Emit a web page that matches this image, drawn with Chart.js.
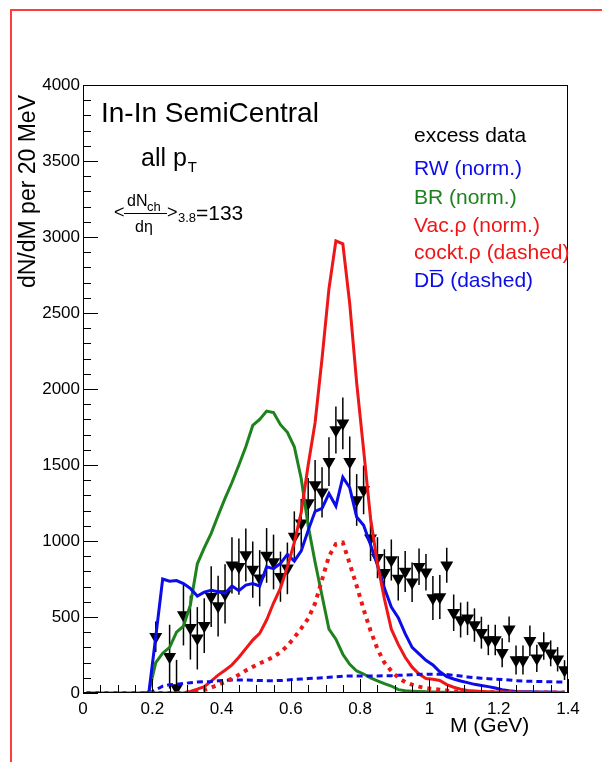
<!DOCTYPE html>
<html>
<head>
<meta charset="utf-8">
<script src="https://cdn.jsdelivr.net/npm/chart.js@4.4.0/dist/chart.umd.min.js"></script>
<style>
  html, body { margin: 0; padding: 0; background: #fff; overflow: hidden; }
  #frame { position: absolute; left: 10px; top: 9px; width: 592px; height: 753px;
           border-left: 2px solid #ff3c3c; border-top: 2px solid #ff3c3c; }
  #myChart { position: absolute; left: 0; top: 0; }
</style>
</head>
<body>
<div id="frame"></div>
<canvas id="myChart" width="602" height="762"></canvas>
<script>
/* ---------- data ---------- */
// mass grid of the model curves (GeV), 20 MeV bins
var mGrid = [0.01,0.03,0.05,0.07,0.09,0.11,0.13,0.15,0.17,0.19,
             0.21,0.23,0.25,0.27,0.29,0.31,0.33,0.35,0.37,0.39,
             0.41,0.43,0.45,0.47,0.49,0.51,0.53,0.55,0.57,0.59,
             0.61,0.63,0.65,0.67,0.69,0.71,0.73,0.75,0.77,0.79,
             0.81,0.83,0.85,0.87,0.89,0.91,0.93,0.95,0.97,0.99,
             1.01,1.03,1.05,1.07,1.09,1.11,1.13,1.15,1.17,1.19,
             1.21,1.23,1.25,1.27,1.29,1.31,1.33,1.35,1.37,1.39];

// RW (norm.) - blue solid
var rwVals = [null,null,null,null,null,null,null,null,null,0,
              370,750,735,740,720,688,638,664,676,666,
              656,704,673,710,720,704,830,818,853,912,
              868,936,1070,1195,1215,1312,1230,1420,1350,1158,
              1104,975,840,690,565,495,390,300,258,215,
              185,140,108,92,79,68,57,50,42,33,
              22,15,10,9,8,7,6,6,5,5];

// BR (norm.) - green solid
var brVals = [0,0,0,0,0,0,0,0,0,5,
              200,262,300,400,440,580,850,955,1050,1168,
              1280,1385,1500,1620,1760,1800,1855,1845,1765,1715,
              1620,1410,1100,860,640,420,354,255,189,145,
              125,100,80,62,46,22,15,12,10,8,
              6,5,5,4,4,4,3,3,3,3,
              3,2,2,2,2,2,2,2,2,2];

// Vac.rho (norm.) - red solid
var vacVals = [null,null,null,null,null,null,null,null,null,0,
               0,0,0,0,0,10,25,42,78,118,
               150,185,235,292,348,392,480,592,690,830,
               990,1190,1500,1780,2200,2660,2975,2955,2560,2040,
               1600,1150,850,620,420,320,235,170,125,95,
               90,82,55,38,25,17,13,10,8,6,
               6,5,5,5,4,4,4,4,3,3];

// cocktail rho - red dashed
var cocktVals = [0,0,0,0,0,0,0,0,0,0,
                 0,0,0,0,0,3,10,20,35,55,
                 72,95,120,148,172,195,215,238,268,310,
                 365,425,490,590,745,900,980,990,850,705,
                 550,410,290,200,145,100,72,55,42,32,
                 26,22,16,10,8,7,6,6,5,5,
                 5,4,4,4,4,3,3,3,3,3];

// D Dbar - blue dashed
var ddVals = [null,null,null,null,null,null,null,null,null,0,
              20,45,55,58,62,68,72,74,76,80,
              84,86,86,86,84,82,81,81,82,85,
              89,92,95,97,100,104,107,110,112,112,
              112,112,112,113,114,116,118,120,123,124,
              124,123,121,117,112,106,101,97,94,91,
              89,85,81,79,77,76,75,74,73,72];

// excess data points
var dataM = [0.21,0.25,0.27,0.29,0.31,0.33,0.35,0.37,0.39,0.41,
             0.43,0.45,0.47,0.49,0.51,0.53,0.55,0.57,0.59,0.61,
             0.63,0.65,0.67,0.69,0.71,0.73,0.75,0.77,0.79,0.81,
             0.83,0.85,0.87,0.89,0.91,0.93,0.95,0.97,0.99,1.01,
             1.03,1.05,1.07,1.09,1.11,1.13,1.15,1.17,1.19,1.21,
             1.23,1.25,1.27,1.29,1.31,1.33,1.35,1.37,1.39];
var dataV = [370,239,33,513,430,360,443,634,572,652,
             840,831,908,812,755,905,862,765,820,1030,
             1116,1250,1368,1320,1522,1730,1774,1522,1270,1336,
             1018,890,791,875,754,800,728,831,795,625,
             632,840,528,480,491,447,397,349,349,265,
             419,217,217,344,228,309,261,222,151];
var dataErr = [100,210,185,200,210,205,180,200,200,195,
               185,185,175,185,185,180,180,165,170,165,
               160,165,165,165,160,155,170,165,170,160,
               150,135,155,135,145,135,130,120,120,145,
               145,115,120,115,110,110,105,100,100,95,
               85,95,95,100,90,90,85,80,65];

// axis ticks
var xTickVals = [0,0.2,0.4,0.6,0.8,1.0,1.2,1.4];
var xTickLabels = ['0','0.2','0.4','0.6','0.8','1','1.2','1.4'];
var yTickVals = [0,500,1000,1500,2000,2500,3000,3500,4000];
var yTickLabels = ['0','500','1000','1500','2000','2500','3000','3500','4000'];

/* ---------- styles ---------- */
var FONT = '"Liberation Sans", Arial, Helvetica, sans-serif';
var BLUE = 'rgb(12,12,232)';
var GREEN = 'rgb(30,130,30)';
var RED = 'rgb(238,22,22)';

Chart.defaults.font.family = FONT;
Chart.defaults.color = '#000';

function pts(vals) {
  return mGrid.map(function (m, i) { return { x: m, y: vals[i] }; });
}

function txt(ctx, s, x, y, size, color) {
  ctx.font = size + 'px ' + FONT;
  ctx.fillStyle = color || '#000';
  ctx.textAlign = 'left';
  ctx.textBaseline = 'alphabetic';
  ctx.fillText(s, x, y);
  return ctx.measureText(s).width;
}

/* error bars, drawn under the markers */
var errorBars = {
  id: 'errorBars',
  beforeDatasetsDraw: function (chart) {
    var ctx = chart.ctx, xs = chart.scales.x, ys = chart.scales.y, a = chart.chartArea;
    ctx.save();
    ctx.beginPath();
    ctx.rect(a.left, a.top, a.right - a.left, a.bottom - a.top);
    ctx.clip();
    ctx.strokeStyle = '#000';
    ctx.lineWidth = 1.5;
    for (var i = 0; i < dataM.length; i++) {
      var x = xs.getPixelForValue(dataM[i]);
      ctx.beginPath();
      ctx.moveTo(x, ys.getPixelForValue(dataV[i] - dataErr[i]));
      ctx.lineTo(x, ys.getPixelForValue(dataV[i] + dataErr[i]));
      ctx.stroke();
    }
    ctx.restore();
  }
};

/* frame, inward ticks and the text labels */
var decorations = {
  id: 'decorations',
  afterDraw: function (chart) {
    var ctx = chart.ctx, xs = chart.scales.x, ys = chart.scales.y, a = chart.chartArea;
    ctx.save();
    ctx.strokeStyle = '#000';
    ctx.lineWidth = 1;
    ctx.strokeRect(a.left + 0.5, a.top + 0.5, a.right - a.left - 1, a.bottom - a.top - 1);

    ctx.beginPath();
    var v, p, len;
    for (v = 0; v <= 4000; v += 100) {
      p = Math.round(ys.getPixelForValue(v)) + 0.5;
      len = (v % 500 === 0) ? 15 : 8;
      ctx.moveTo(a.left, p);
      ctx.lineTo(a.left + len, p);
    }
    for (var k = 0; k <= 28; k++) {
      p = Math.round(xs.getPixelForValue(k * 0.05)) + 0.5;
      len = (k % 4 === 0) ? 14 : 8;
      ctx.moveTo(p, a.bottom);
      ctx.lineTo(p, a.bottom - len);
    }
    ctx.stroke();

    // axis titles
    txt(ctx, 'M (GeV)', 450, 732, 21);
    ctx.save();
    ctx.translate(35, 95);
    ctx.rotate(-Math.PI / 2);
    ctx.font = '23px ' + FONT;
    ctx.fillStyle = '#000';
    ctx.textAlign = 'right';
    ctx.textBaseline = 'alphabetic';
    ctx.fillText('dN/dM per 20 MeV', 0, 0);
    ctx.restore();

    // header texts
    txt(ctx, 'In-In SemiCentral', 101, 122, 28);
    var w = txt(ctx, 'all p', 141, 166, 25);
    txt(ctx, 'T', 141 + w + 1, 172, 15);

    txt(ctx, '<', 114, 218, 18);
    txt(ctx, 'dN', 127, 206, 16);
    txt(ctx, 'ch', 147, 211, 13);
    ctx.beginPath();
    ctx.moveTo(124, 213.5);
    ctx.lineTo(167, 213.5);
    ctx.stroke();
    txt(ctx, 'd\u03b7', 135, 232, 16);
    txt(ctx, '>', 167, 218, 18);
    txt(ctx, '3.8', 178, 222, 13);
    txt(ctx, '=133', 196, 220, 21);

    // legend texts
    txt(ctx, 'excess data', 414, 142, 21);
    txt(ctx, 'RW (norm.)', 414, 175, 21, BLUE);
    txt(ctx, 'BR (norm.)', 414, 204, 21, GREEN);
    txt(ctx, 'Vac.\u03c1 (norm.)', 414, 232, 21, RED);
    txt(ctx, 'cockt.\u03c1 (dashed)', 414, 259, 21, RED);
    txt(ctx, 'DD\u0305 (dashed)', 414, 287, 21, BLUE);
    ctx.restore();
  }
};

var ctx = document.getElementById('myChart');
var myChart = new Chart(ctx, {
  type: 'line',
  data: {
    datasets: [
      { label: 'cockt.\u03c1 (dashed)', data: pts(cocktVals), borderColor: RED,
        borderWidth: 4, borderDash: [4, 5], pointRadius: 0, fill: false },
      { label: 'DD\u0305 (dashed)', data: pts(ddVals), borderColor: BLUE,
        borderWidth: 3, borderDash: [6, 4], pointRadius: 0, fill: false },
      { label: 'Vac.\u03c1 (norm.)', data: pts(vacVals), borderColor: RED,
        borderWidth: 3, pointRadius: 0, fill: false },
      { label: 'RW (norm.)', data: pts(rwVals), borderColor: BLUE,
        borderWidth: 3, pointRadius: 0, fill: false },
      { label: 'BR (norm.)', data: pts(brVals), borderColor: GREEN,
        borderWidth: 3, pointRadius: 0, fill: false },
      { label: 'excess data',
        data: dataM.map(function (m, i) { return { x: m, y: dataV[i] }; }),
        showLine: false, pointStyle: 'triangle', rotation: 180, pointRadius: 7.5,
        pointBackgroundColor: '#000', pointBorderColor: '#000', pointBorderWidth: 0 }
    ]
  },
  options: {
    responsive: false,
    animation: false,
    devicePixelRatio: 1,
    layout: { padding: { left: 0, top: 85, right: 34, bottom: 0 } },
    plugins: { legend: { display: false }, tooltip: { enabled: false } },
    scales: {
      x: {
        type: 'linear', min: 0, max: 1.4,
        afterFit: function (s) { s.height = 69; },
        afterBuildTicks: function (s) { s.ticks = xTickVals.map(function (v) { return { value: v }; }); },
        ticks: { callback: function (v, i) { return xTickLabels[i]; },
                 font: { size: 17 }, padding: 6, maxRotation: 0, autoSkip: false },
        grid: { drawOnChartArea: false, drawTicks: false },
        border: { display: false }
      },
      y: {
        type: 'linear', min: 0, max: 4000,
        afterFit: function (s) { s.width = 83; },
        afterBuildTicks: function (s) { s.ticks = yTickVals.map(function (v) { return { value: v }; }); },
        ticks: { callback: function (v, i) { return yTickLabels[i]; },
                 font: { size: 17 }, padding: 3, autoSkip: false },
        grid: { drawOnChartArea: false, drawTicks: false },
        border: { display: false }
      }
    }
  },
  plugins: [errorBars, decorations]
});
</script>
</body>
</html>
